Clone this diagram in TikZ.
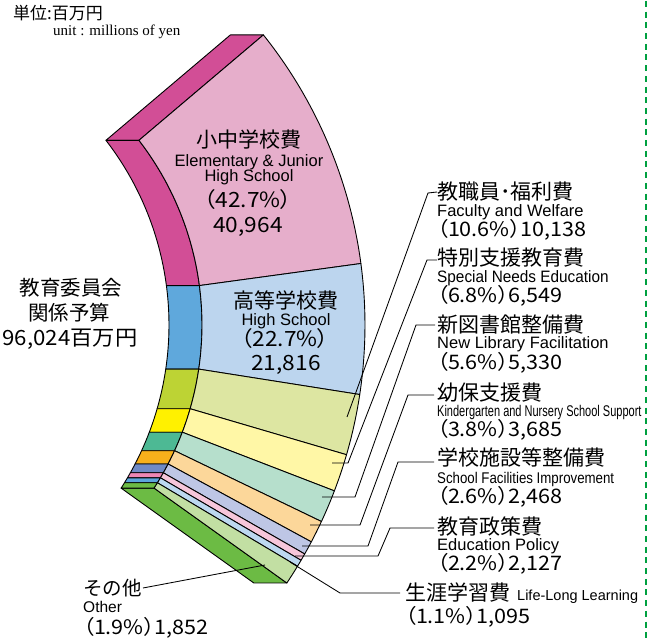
\documentclass[tikz,border=0pt]{standalone}
\usepackage{fontspec}
\newfontfamily\jpf{Noto Sans CJK JP}
\newfontfamily\jpp[RawFeature=+palt, FakeStretch=1.08]{Noto Sans CJK JP}
\newfontfamily\jpw[FakeStretch=1.06]{Noto Sans CJK JP}
\newfontfamily\enf{Liberation Sans}
\newfontfamily\serf{Liberation Serif}
\usetikzlibrary{calc}
\definecolor{cAs}{HTML}{D24E96}\definecolor{cAf}{HTML}{E6AECB}
\definecolor{cBs}{HTML}{5FA8DC}\definecolor{cBf}{HTML}{BCD5EE}
\definecolor{cCs}{HTML}{BDD334}\definecolor{cCf}{HTML}{DDE6A2}
\definecolor{cDs}{HTML}{FFF100}\definecolor{cDf}{HTML}{FFF7A6}
\definecolor{cEs}{HTML}{4DB994}\definecolor{cEf}{HTML}{B6DFCC}
\definecolor{cFs}{HTML}{F7B01B}\definecolor{cFf}{HTML}{FCD79A}
\definecolor{cGs}{HTML}{6F8AC6}\definecolor{cGf}{HTML}{BEC6E5}
\definecolor{cHs}{HTML}{EE87B4}\definecolor{cHf}{HTML}{F6C6DA}
\definecolor{cIs}{HTML}{5CA5DC}\definecolor{cIf}{HTML}{BCD8F0}
\definecolor{cJs}{HTML}{6CBB44}\definecolor{cJf}{HTML}{C2DFA3}
\definecolor{dashgreen}{HTML}{00A040}
\tikzset{
  jt/.style={font=\jpf\fontsize{21}{21}\selectfont, inner sep=0pt},
  jl/.style={font=\jpf\fontsize{20.5}{20.5}\selectfont, inner sep=0pt},
  en/.style={font=\enf\fontsize{16.5}{16.5}\selectfont, inner sep=0pt},
  num/.style={font=\jpp\fontsize{20}{20}\selectfont, inner sep=0pt},
  bignum/.style={font=\jpp\fontsize{21}{21}\selectfont, inner sep=0pt},
  face/.style={draw=black, line width=0.9pt, line join=round},
  leader/.style={draw=black, line width=0.85pt, line join=miter},
  dashline/.style={draw=dashgreen, line width=2pt, dash pattern=on 6pt off 4.7pt},
}
\begin{document}
\begin{tikzpicture}[x=1pt,y=1pt]
\useasboundingbox (0,0) rectangle (658,642);
\coordinate (C) at (-100,317);
\def\Ri{302}
\def\Ro{465}
\def\sh{33}
% top face
\filldraw[face, fill=cAs] ($(C)+(37.7:\Ri)$) -- ($(C)+(38.6:\Ro)$) -- ++(-\sh,0) -- ($(C)+(37.7:\Ri)+(-\sh,0)$) -- cycle;
% bottom face
\filldraw[face, fill=cJs] ($(C)+(-32.7:\Ri)$) -- ($(C)+(-33.7:\Ro)$) -- ++(-\sh,0) -- ($(C)+(-32.7:\Ri)+(-\sh,0)$) -- cycle;
% bands: inner start/end, outer start/end, side colour, front colour
\foreach \ai/\bi/\ao/\bo/\cs/\cf in {
   37.7/7.5/38.6/7.6/cAs/cAf,
   7.5/-8.4/7.6/-8.6/cBs/cBf,
   -8.4/-16.1/-8.6/-16.2/cCs/cCf,
   -16.1/-20.8/-16.2/-20.9/cDs/cDf,
   -20.8/-24.6/-20.9/-25.0/cEs/cEf,
   -24.6/-27.4/-25.0/-27.8/cFs/cFf,
   -27.4/-29.3/-27.8/-29.5/cGs/cGf,
   -29.3/-30.4/-29.5/-30.4/cHs/cHf,
   -30.4/-31.5/-30.4/-31.25/cIs/cIf,
   -31.5/-32.7/-31.25/-33.7/cJs/cJf} {
  \filldraw[face, fill=\cs] ($(C)+(\ai:\Ri)$) arc[start angle=\ai, end angle=\bi, radius=\Ri]
     -- ++(-\sh,0) arc[start angle=\bi, end angle=\ai, radius=\Ri] -- cycle;
  \filldraw[face, fill=\cf] ($(C)+(\ai:\Ri)$) arc[start angle=\ai, end angle=\bi, radius=\Ri]
     -- ($(C)+(\bo:\Ro)$) arc[start angle=\bo, end angle=\ao, radius=\Ro] -- cycle;
}
% header
\node[font=\jpf\fontsize{17}{17}\selectfont, inner sep=0pt, anchor=base west] (unitjp) at (13,622) {単位:百万円};
\node[font=\serf\fontsize{15}{15}\selectfont, inner sep=0pt, anchor=base west] (uniten) at (53,606) {unit : millions of yen};
% left total
\node[jl, anchor=base] (tot1) at (71,346) {教育委員会};
\node[jl, anchor=base] (tot2) at (69,321) {関係予算};
\node[font=\jpw\fontsize{21}{21}\selectfont, inner sep=0pt, anchor=base] (tot3) at (70,296) {96,024百万円};
% main labels
\node[jt, anchor=base] (m1a) at (249,494) {小中学校費};
\node[en, anchor=base] (m1b) at (249,475) {Elementary \& Junior};
\node[en, anchor=base] (m1c) at (249,460) {High School};
\node[bignum, anchor=base] (m1d) at (248,434) {（42.7\%）};
\node[bignum, anchor=base] (m1e) at (248,409) {40,964};
\node[jt, anchor=base] (m2a) at (286,333) {高等学校費};
\node[en, anchor=base] (m2b) at (286,316) {High School};
\node[bignum, anchor=base] (m2c) at (285,295) {（22.7\%）};
\node[bignum, anchor=base] (m2d) at (286,271) {21,816};
% right labels
\node[jt, anchor=base west] (r1a) at (437,442) {教職員･福利費};
\node[en, anchor=base west] (r1b) at (437,425) {Faculty and Welfare};
\node[num, anchor=base west] (r1c) at (437,405) {（10.6\%）10,138};
\node[jt, anchor=base west] (r2a) at (437,376) {特別支援教育費};
\node[en, anchor=base west] (r2b) at (437,359) {\scalebox{0.93}[1]{Special Needs Education}};
\node[num, anchor=base west] (r2c) at (437,339) {（6.8\%）6,549};
\node[jt, anchor=base west] (r3a) at (437,309) {新図書館整備費};
\node[en, anchor=base west] (r3b) at (437,293) {New Library Facilitation};
\node[num, anchor=base west] (r3c) at (437,272) {（5.6\%）5,330};
\node[jt, anchor=base west] (r4a) at (437,241) {幼保支援費};
\node[font=\enf\fontsize{15.5}{15.5}\selectfont, inner sep=0pt, anchor=base west] (r4b) at (437,225) {\scalebox{0.71}[1]{Kindergarten and Nursery School Support}};
\node[num, anchor=base west] (r4c) at (437,205) {（3.8\%）3,685};
\node[jt, anchor=base west] (r5a) at (437,176) {学校施設等整備費};
\node[font=\enf\fontsize{15.5}{15.5}\selectfont, inner sep=0pt, anchor=base west] (r5b) at (437,158) {\scalebox{0.856}[1]{School Facilities Improvement}};
\node[num, anchor=base west] (r5c) at (437,138) {（2.6\%）2,468};
\node[jt, anchor=base west] (r6a) at (437,107) {教育政策費};
\node[en, anchor=base west] (r6b) at (437,91) {Education Policy};
\node[num, anchor=base west] (r6c) at (437,71) {（2.2\%）2,127};
\node[jt, anchor=base west] (r7a) at (405,41) {生涯学習費};
\node[font=\enf\fontsize{14.5}{14.5}\selectfont, inner sep=0pt, anchor=base west] (r7b) at (517,41) {Life-Long Learning};
\node[num, anchor=base west] (r7c) at (405,19) {（1.1\%）1,095};
\node[font=\jpf\fontsize{19.5}{19.5}\selectfont, inner sep=0pt, anchor=base west] (o1) at (83,46) {その他};
\node[font=\enf\fontsize{15.5}{15.5}\selectfont, inner sep=0pt, anchor=base west] (o2) at (83,29) {Other};
\node[num, anchor=base west] (o3) at (83,8) {（1.9\%）1,852};
% leader coordinates
\coordinate (s1) at (347,225); \coordinate (k1) at (428,449); \coordinate (e1) at (437,450);
\coordinate (s2) at (332,179); \coordinate (h2) at (348,179); \coordinate (k2) at (427,382); \coordinate (e2) at (437,382);
\coordinate (s3) at (322,145); \coordinate (h3) at (355,145); \coordinate (k3) at (416,317); \coordinate (e3) at (435,317);
\coordinate (s4) at (310,117); \coordinate (h4) at (360,117); \coordinate (k4) at (408,247); \coordinate (e4) at (434,247);
\coordinate (s5) at (302,96); \coordinate (h5) at (368,96); \coordinate (k5) at (398,180); \coordinate (e5) at (434,180);
\coordinate (s6) at (295,86); \coordinate (h6) at (378,86); \coordinate (k6) at (390,114); \coordinate (e6) at (434,114);
\coordinate (s7) at (290,80); \coordinate (k7) at (340,49); \coordinate (e7) at (400,49);
\coordinate (s8) at (265,77); \coordinate (e8) at (143,54);
\draw[leader] (s1) -- (k1) -- (e1);
\draw[leader] (s2) -- (h2) -- (k2) -- (e2);
\draw[leader] (s3) -- (h3) -- (k3) -- (e3);
\draw[leader] (s4) -- (h4) -- (k4) -- (e4);
\draw[leader] (s5) -- (h5) -- (k5) -- (e5);
\draw[leader] (s6) -- (h6) -- (k6) -- (e6);
\draw[leader] (s7) -- (k7) -- (e7);
\draw[leader] (s8) -- (e8);
% dashed divider
\coordinate (dtop) at (646,641);
\coordinate (dbot) at (646,0);
\draw[dashline] (dtop) -- (dbot);
\end{tikzpicture}
\end{document}
